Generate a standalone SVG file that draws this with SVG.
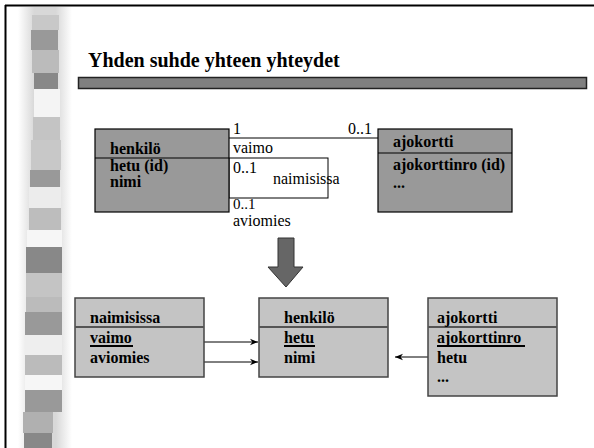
<svg xmlns="http://www.w3.org/2000/svg" width="594" height="448" viewBox="0 0 594 448">
<defs>
<linearGradient id="halo" x1="0" y1="0" x2="1" y2="0">
<stop offset="0" stop-color="#ffffff"/>
<stop offset="0.3" stop-color="#d8d8d8"/>
<stop offset="0.7" stop-color="#d8d8d8"/>
<stop offset="1" stop-color="#ffffff"/>
</linearGradient>
<marker id="ah" viewBox="0 0 10 10" refX="10" refY="5" markerWidth="8" markerHeight="8" markerUnits="userSpaceOnUse" orient="auto">
<path d="M0,1 L10,5 L0,9 L3,5 Z" fill="#000"/>
</marker>
<style>
.b{font-family:"Liberation Serif","Times New Roman",serif;font-size:16px;font-weight:bold;fill:#000}
.r{font-family:"Liberation Serif","Times New Roman",serif;font-size:16px;fill:#000}
.top{fill:#999999;stroke:#000;stroke-width:1.2}
.bot{fill:#c4c4c4;stroke:#444;stroke-width:1.5}
.div1{stroke:#000;stroke-width:1.2}
.div2{stroke:#555;stroke-width:2}
.ul{stroke:#000;stroke-width:2}
.ln{stroke:#000;stroke-width:1;fill:none}
</style>
</defs>
<rect x="0" y="0" width="594" height="448" fill="#fff"/>
<g id="frame">
<line x1="5" y1="5.5" x2="594" y2="5.5" stroke="#000" stroke-width="2"/>
<line x1="5.5" y1="5" x2="5.5" y2="448" stroke="#000" stroke-width="2"/>
</g>
<g id="strip">
<rect x="18" y="7" width="54" height="441" fill="url(#halo)"/>
<rect x="32" y="15" width="27" height="15" fill="#c8c8c8"/>
<rect x="31" y="30" width="27" height="20" fill="#999"/>
<rect x="32" y="50" width="27" height="23" fill="#bbb"/>
<rect x="34" y="73" width="24" height="16" fill="#888"/>
<rect x="34" y="89" width="26" height="28" fill="#f4f4f4"/>
<rect x="33" y="117" width="27" height="23" fill="#c4c4c4"/>
<rect x="31" y="140" width="30" height="30" fill="#c8c8c8"/>
<rect x="30" y="170" width="30" height="17" fill="#999"/>
<rect x="29" y="187" width="32" height="21" fill="#ececec"/>
<rect x="29" y="208" width="32" height="22" fill="#bdbdbd"/>
<rect x="27" y="230" width="35" height="17" fill="#f6f6f6"/>
<rect x="26" y="247" width="36" height="26" fill="#888"/>
<rect x="26" y="273" width="36" height="24" fill="#c4c4c4"/>
<rect x="26" y="297" width="36" height="15" fill="#bbb"/>
<rect x="25" y="312" width="37" height="23" fill="#999"/>
<rect x="25" y="335" width="37" height="20" fill="#eee"/>
<rect x="25" y="355" width="37" height="20" fill="#bbb"/>
<rect x="25" y="375" width="37" height="15" fill="#f6f6f6"/>
<rect x="25" y="390" width="37" height="22" fill="#999"/>
<rect x="23" y="412" width="30" height="21" fill="#b0b0b0"/>
<rect x="24" y="433" width="28" height="15" fill="#888"/>
</g>
<g id="title">
<text class="b" x="88" y="67" style="font-size:20px">Yhden suhde yhteen yhteydet</text>
<rect x="78.5" y="77.5" width="508" height="11" fill="#808080" stroke="#222" stroke-width="1.5"/>
</g>
<g id="connectors">
<line class="ln" x1="229" y1="138" x2="378" y2="138"/>
<rect x="229" y="158" width="99" height="40" fill="#fff" stroke="#000" stroke-width="1"/>
<text class="r" x="233" y="134">1</text>
<text class="r" x="348" y="134">0..1</text>
<text class="r" x="233" y="153">vaimo</text>
<text class="r" x="233" y="173">0..1</text>
<text class="r" x="273" y="184">naimisissa</text>
<text class="r" x="233" y="209" style="font-size:15px">0..1</text>
<text class="r" x="233" y="226">aviomies</text>
<path d="M278,238 H294 V267 H303 L286,287 L268,267 H278 Z" fill="#666" stroke="#333" stroke-width="1"/>
<line class="ln" x1="193" y1="342" x2="258" y2="342" marker-end="url(#ah)"/>
<line class="ln" x1="193" y1="362" x2="258" y2="362" marker-end="url(#ah)"/>
<line class="ln" x1="433" y1="357" x2="395" y2="357" marker-end="url(#ah)"/>
</g>
<g id="henkilo-top">
<rect class="top" x="95" y="129" width="134" height="83"/>
<line class="div1" x1="95" y1="158" x2="229" y2="158"/>
<text class="b" x="110" y="154">henkilö</text>
<text class="b" x="110" y="171">hetu (id)</text>
<text class="b" x="110" y="187">nimi</text>
</g>
<g id="ajokortti-top">
<rect class="top" x="378" y="129" width="134" height="83"/>
<line class="div1" x1="378" y1="153" x2="512" y2="153"/>
<text class="b" x="393" y="147">ajokortti</text>
<text class="b" x="393" y="170">ajokorttinro (id)</text>
<text class="b" x="393" y="188">...</text>
</g>
<g id="naimisissa-bottom">
<rect class="bot" x="75" y="298" width="129" height="79"/>
<line class="div2" x1="75" y1="327" x2="204" y2="327"/>
<text class="b" x="90" y="323">naimisissa</text>
<text class="b" x="90" y="343">vaimo</text>
<line class="ul" x1="90" y1="346" x2="133" y2="346"/>
<text class="b" x="90" y="363">aviomies</text>
</g>
<g id="henkilo-bottom">
<rect class="bot" x="259" y="298" width="129" height="79"/>
<line class="div2" x1="259" y1="327" x2="388" y2="327"/>
<text class="b" x="284" y="323">henkilö</text>
<text class="b" x="284" y="343">hetu</text>
<line class="ul" x1="284" y1="346" x2="315" y2="346"/>
<text class="b" x="284" y="363">nimi</text>
</g>
<g id="ajokortti-bottom">
<rect class="bot" x="428" y="298" width="129" height="98"/>
<line class="div2" x1="428" y1="327" x2="557" y2="327"/>
<text class="b" x="437" y="323">ajokortti</text>
<text class="b" x="437" y="343">ajokorttinro</text>
<line class="ul" x1="437" y1="346" x2="525" y2="346"/>
<text class="b" x="437" y="363">hetu</text>
<text class="b" x="437" y="382">...</text>
</g>
</svg>
